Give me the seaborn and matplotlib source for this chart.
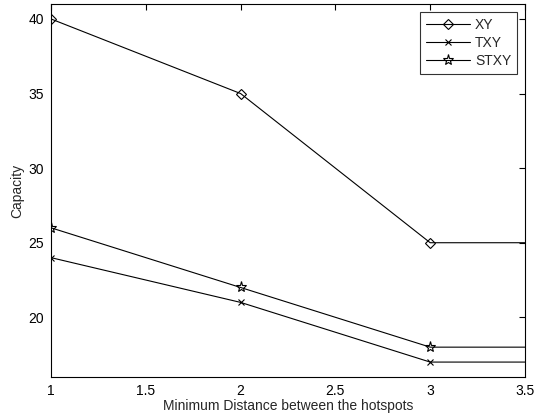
import matplotlib
matplotlib.use("Agg")
import matplotlib.pyplot as plt
import seaborn as sns
import pandas as pd

x_vals = [1, 2, 3, 4]
xy_vals = [40, 35, 25, 25]
txy_vals = [24, 21, 17, 17]
stxy_vals = [26, 22, 18, 18]
series_names = ["XY", "TXY", "STXY"]
x_ticks = [1, 1.5, 2, 2.5, 3, 3.5]
y_ticks = [20, 25, 30, 35, 40]

sns.set_style("white")
plt.rcParams['font.family'] = ['Liberation Sans', 'DejaVu Sans']

fig = plt.figure(figsize=(5.38, 4.2), dpi=100)
ax = fig.add_axes([0.0948, 0.1024, 0.881, 0.888])

markers = {"XY": ("D", 5, 'none'), "TXY": ("x", 5, 'k'), "STXY": ("*", 8, 'none')}
for name, vals in zip(series_names, [xy_vals, txy_vals, stxy_vals]):
    df = pd.DataFrame({"x": x_vals, "y": vals})
    m, ms, fc = markers[name]
    sns.lineplot(data=df, x="x", y="y", ax=ax, color="black", linewidth=0.8,
                 marker=m, markersize=ms, markerfacecolor=fc,
                 markeredgecolor="black", markeredgewidth=0.8, label=name,
                 clip_on=True)

ax.set_xlim(1, 3.5)
ax.set_ylim(16, 41)
ax.set_xticks(x_ticks)
ax.set_xticklabels(["1", "1.5", "2", "2.5", "3", "3.5"])
ax.set_yticks(y_ticks)
ax.tick_params(direction="in", top=True, right=True, length=4, width=0.8,
               labelsize=10, colors="black", pad=5)
for s in ax.spines.values():
    s.set_color("black")
    s.set_linewidth(0.8)
ax.set_xlabel("Minimum Distance between the hotspots", fontsize=10, labelpad=1)
ax.set_ylabel("Capacity", fontsize=10, labelpad=3)

leg = ax.legend(loc="upper right", frameon=True, fancybox=False, fontsize=10,
                handlelength=3.2, borderaxespad=0.6, labelspacing=0.3,
                borderpad=0.4, handletextpad=0.35)
leg.get_frame().set_edgecolor("black")
leg.get_frame().set_linewidth(0.8)

fig.savefig("out.png", dpi=100)
